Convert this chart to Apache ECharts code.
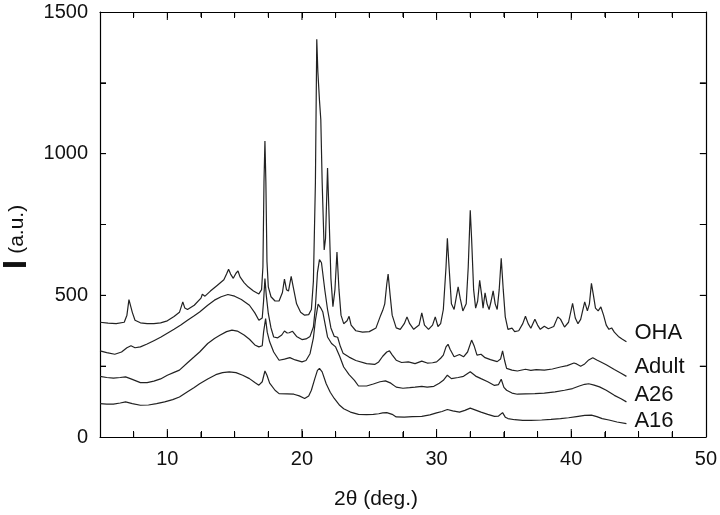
<!DOCTYPE html>
<html>
<head>
<meta charset="utf-8">
<script src="https://cdn.jsdelivr.net/npm/echarts@6/dist/echarts.min.js"></script>
<style>html,body{margin:0;padding:0;background:#fff}.c{width:720px;height:515px}</style>
</head>
<body>
<div id="main" class="c"></div>
<script>
// 2θ (deg.) vs intensity (a.u.)
const OHA = [[5.0,405],[5.6,402],[6.2,400],[6.8,405],[7.0,430],[7.15,485],[7.25,490],[7.4,440],[7.6,412],[8.0,403],[8.5,400],[9.0,400],[9.5,403],[10.0,410],[10.5,425],[10.9,440],[11.05,462],[11.15,477],[11.3,455],[11.5,450],[12.0,465],[12.5,490],[12.6,504],[12.8,497],[13.2,515],[13.7,535],[14.2,555],[14.4,575],[14.55,592],[14.7,575],[14.9,560],[15.1,578],[15.25,586],[15.4,565],[15.7,545],[16.0,530],[16.4,515],[16.8,505],[17.0,520],[17.1,600],[17.18,900],[17.25,1045],[17.32,900],[17.4,620],[17.5,530],[17.7,495],[18.0,480],[18.3,480],[18.55,510],[18.7,557],[18.85,520],[19.0,515],[19.2,567],[19.35,530],[19.6,470],[19.9,440],[20.2,430],[20.5,432],[20.7,450],[20.85,550],[21.0,900],[21.1,1404],[21.18,1290],[21.3,1189],[21.4,1120],[21.5,900],[21.65,660],[21.75,700],[21.9,949],[22.0,800],[22.15,560],[22.3,460],[22.45,520],[22.6,653],[22.75,520],[22.9,430],[23.1,400],[23.35,410],[23.5,426],[23.65,395],[24.0,375],[24.5,370],[25.0,372],[25.5,385],[25.85,430],[26.0,447],[26.15,470],[26.3,540],[26.4,575],[26.55,500],[26.7,430],[27.0,385],[27.3,380],[27.6,400],[27.8,424],[28.0,400],[28.3,380],[28.7,395],[28.9,438],[29.1,395],[29.4,380],[29.7,395],[29.9,424],[30.1,390],[30.3,400],[30.5,450],[30.7,600],[30.8,701],[30.9,620],[31.1,470],[31.3,450],[31.45,490],[31.6,530],[31.75,490],[31.95,445],[32.2,470],[32.35,600],[32.5,800],[32.6,700],[32.75,520],[32.9,455],[33.05,480],[33.2,553],[33.35,500],[33.45,455],[33.6,509],[33.75,470],[33.9,450],[34.05,480],[34.2,516],[34.35,470],[34.5,450],[34.65,520],[34.8,631],[34.95,520],[35.1,424],[35.3,380],[35.6,384],[35.8,372],[36.1,375],[36.4,400],[36.6,426],[36.8,400],[37.0,384],[37.3,416],[37.5,395],[37.7,380],[38.0,391],[38.3,382],[38.7,390],[39.0,424],[39.2,416],[39.5,388],[39.8,405],[40.1,472],[40.3,420],[40.5,400],[40.7,415],[41.0,477],[41.2,445],[41.35,470],[41.5,542],[41.65,500],[41.8,455],[42.0,445],[42.2,459],[42.4,430],[42.6,395],[42.8,380],[43.0,385],[43.2,370],[43.5,355],[43.8,345],[44.1,336]];

const ADULT = [[5.0,304],[5.5,298],[6.1,292],[6.6,300],[7.0,315],[7.3,322],[7.6,315],[8.0,318],[8.5,328],[9.0,340],[9.5,352],[10.0,366],[10.5,380],[11.0,395],[11.5,412],[12.0,428],[12.4,441],[13.0,465],[13.5,483],[14.0,495],[14.5,503],[15.0,497],[15.5,485],[16.1,465],[16.5,438],[16.8,412],[17.05,420],[17.15,480],[17.25,559],[17.35,500],[17.5,436],[17.7,385],[17.9,353],[18.2,350],[18.5,360],[18.7,374],[18.9,367],[19.05,368],[19.3,373],[19.6,355],[20.0,344],[20.3,346],[20.6,355],[20.85,388],[21.0,460],[21.15,580],[21.3,626],[21.45,615],[21.7,518],[21.9,450],[22.15,385],[22.4,355],[22.65,352],[22.85,320],[23.05,296],[23.5,282],[24.0,270],[24.8,259],[25.4,256],[25.7,265],[26.0,285],[26.3,300],[26.5,304],[26.7,290],[27.0,271],[27.4,263],[27.9,265],[28.4,259],[28.9,268],[29.3,261],[29.7,262],[30.0,265],[30.3,278],[30.5,289],[30.7,318],[30.85,327],[31.0,310],[31.3,283],[31.7,291],[32.0,283],[32.3,300],[32.6,342],[32.8,320],[33.0,289],[33.3,292],[33.6,280],[34.0,273],[34.5,266],[34.75,275],[34.9,304],[35.05,270],[35.2,242],[35.6,236],[36.0,233],[36.6,239],[37.0,235],[37.4,238],[38.0,236],[38.6,240],[39.2,247],[39.7,252],[40.2,261],[40.4,258],[40.7,250],[41.0,258],[41.3,272],[41.6,280],[41.9,272],[42.2,265],[42.6,255],[43.2,238],[43.7,225],[44.1,214]];

const A26 = [[5.0,214],[5.5,210],[6.0,208],[6.5,210],[6.9,212],[7.3,205],[8.0,192],[8.5,192],[9.0,197],[9.5,205],[10.0,218],[10.5,228],[10.9,236],[11.5,262],[12.0,283],[12.4,300],[13.0,330],[13.5,348],[13.9,359],[14.4,372],[14.8,377],[15.2,374],[15.7,360],[16.1,345],[16.5,325],[16.8,318],[17.05,322],[17.15,370],[17.3,418],[17.42,370],[17.6,336],[17.9,300],[18.3,271],[18.7,275],[19.1,280],[19.5,272],[20.0,265],[20.3,270],[20.6,294],[20.85,350],[21.0,412],[21.2,469],[21.4,455],[21.55,441],[21.9,353],[22.2,330],[22.5,318],[22.8,285],[23.1,247],[23.5,220],[23.9,200],[24.2,180],[24.8,180],[25.3,187],[25.8,195],[26.2,198],[26.6,190],[27.0,176],[27.5,172],[28.0,174],[28.4,176],[28.9,179],[29.3,176],[29.8,179],[30.2,190],[30.5,200],[30.8,218],[31.1,206],[31.6,210],[32.0,214],[32.5,230],[32.9,215],[33.3,206],[33.8,195],[34.3,182],[34.6,185],[34.8,204],[35.0,175],[35.2,165],[35.6,155],[36.0,151],[36.6,152],[37.3,153],[38.0,155],[38.8,159],[39.5,165],[40.1,171],[40.6,180],[41.0,186],[41.3,188],[41.7,183],[42.1,177],[42.6,165],[43.2,147],[43.7,135],[44.1,124]];

const A16 = [[5.0,118],[5.5,116],[6.0,116],[6.5,120],[6.9,124],[7.4,118],[8.0,112],[8.6,113],[9.2,118],[9.8,124],[10.4,132],[10.9,141],[11.5,160],[12.0,175],[12.4,188],[13.0,205],[13.6,220],[14.1,227],[14.6,230],[15.1,227],[15.6,218],[16.1,206],[16.5,192],[16.8,183],[17.05,195],[17.25,233],[17.4,218],[17.6,190],[18.0,165],[18.3,153],[18.9,152],[19.4,151],[19.8,145],[20.2,136],[20.5,145],[20.7,165],[20.95,205],[21.15,235],[21.3,242],[21.5,230],[21.8,188],[22.1,158],[22.4,136],[22.8,112],[23.1,100],[23.6,88],[24.2,80],[24.8,79],[25.3,80],[25.7,82],[26.0,85],[26.3,86],[26.7,80],[27.0,71],[27.6,70],[28.2,72],[28.9,73],[29.5,78],[30.0,85],[30.4,90],[30.8,97],[31.2,92],[31.7,88],[32.1,94],[32.5,102],[32.9,95],[33.3,88],[33.8,80],[34.3,73],[34.6,74],[34.9,86],[35.1,70],[35.3,65],[35.8,61],[36.4,59],[37.0,59],[37.8,60],[38.5,62],[39.2,65],[39.8,68],[40.4,72],[41.0,76],[41.5,77],[41.9,72],[42.3,65],[42.8,60],[43.4,53],[44.1,47]];

const SERIES_NAMES = ['OHA', 'Adult', 'A26', 'A16'];
const X_MAJOR_TICKS = [10, 20, 30, 40];
const X_MINOR_TICKS = [7.5, 12.5, 15, 17.5, 22.5, 25, 27.5, 32.5, 35, 37.5, 42.5, 45, 47.5];
const Y_TICKS = [250, 500, 750, 1000, 1250];
const X_MIN = 5, X_MAX = 50, Y_MIN = 0, Y_MAX = 1500;
const FONT = 'Liberation Sans, Arial, sans-serif';

const dataSets = [OHA, ADULT, A26, A16];
const labelOffsets = [[0, -9], [0, -9], [0, -7], [0, -3]];

const ch = echarts.init(document.getElementById('main'), null, {renderer: 'canvas'});
function x(pos, labels) {
  return {type: 'value', min: X_MIN, max: X_MAX, interval: 2.5, position: pos,
    axisLine: {show: true, onZero: false, lineStyle: {color: '#000', width: 1.2}},
    axisTick: {show: true, inside: true, length: 6, lineStyle: {color: '#000', width: 1}},
    axisLabel: labels ? {show: true, fontSize: 20, color: '#111', fontFamily: FONT, margin: 12, formatter: v => (v % 10 === 0 ? String(v) : '')} : {show: false},
    splitLine: {show: false}};
}
function y(pos, labels) {
  return {type: 'value', min: Y_MIN, max: Y_MAX, interval: 250, position: pos,
    axisLine: {show: true, onZero: false, lineStyle: {color: '#000', width: 1.2}},
    axisTick: {show: true, inside: true, length: 6, lineStyle: {color: '#000', width: 1}},
    axisLabel: labels ? {show: true, fontSize: 20, color: '#111', fontFamily: FONT, margin: 12, formatter: v => (v % 500 === 0 ? String(v) : '')} : {show: false},
    splitLine: {show: false}};
}

// tick marks as tiny rect symbols placed on the axes through the chart scales
function tickSeries(data, size, offset) {
  return {type: 'scatter', data: data, symbol: 'rect', symbolSize: size, symbolOffset: offset,
    itemStyle: {color: '#000', opacity: 1}, silent: true, z: 10, clip: false, animation: false,
    emphasis: {disabled: true}, label: {show: false}};
}

const lineSeries = dataSets.map((d, i) => ({
  name: SERIES_NAMES[i], type: 'line', xAxisIndex: 0, yAxisIndex: 0, data: d,
  showSymbol: false, symbol: 'none', lineStyle: {color: '#222', width: 1.2},
  endLabel: {show: true, formatter: SERIES_NAMES[i], fontSize: 22, color: '#111', fontFamily: FONT, distance: 8, offset: labelOffsets[i]}
}));

const ticks = [
  tickSeries(X_MAJOR_TICKS.map(v => [v, Y_MIN]), [1, 8], [0, -4]),
  tickSeries(X_MINOR_TICKS.map(v => [v, Y_MIN]), [1, 5], [0, -2.5]),
  tickSeries(X_MAJOR_TICKS.map(v => [v, Y_MAX]), [1, 8], [0, 4]),
  tickSeries(X_MINOR_TICKS.map(v => [v, Y_MAX]), [1, 5], [0, 2.5]),
  tickSeries(Y_TICKS.map(v => [X_MIN, v]), [6, 1], [3, 0]),
  tickSeries(Y_TICKS.map(v => [X_MAX, v]), [6, 1], [-3, 0])
];

ch.setOption({
  animation: false,
  grid: {left: 100, right: 12, top: 12, bottom: 78, containLabel: false},
  xAxis: [x('bottom', true), x('top', false)],
  yAxis: [y('left', true), y('right', false)],
  series: lineSeries.concat(ticks),
  graphic: [
    {type: 'text', x: 17, y: 237, rotation: Math.PI / 2,
     style: {text: '{b|I} (a.u.)', rich: {b: {fontSize: 34, fontWeight: 'bold', fontFamily: FONT, fill: '#111'}}, fontSize: 21, fontFamily: FONT, fill: '#111', align: 'center', verticalAlign: 'middle'}},
    {type: 'text', x: 376, y: 499,
     style: {text: '2θ (deg.)', fontSize: 21, fontFamily: FONT, fill: '#111', align: 'center', verticalAlign: 'middle'}}
  ]
});
</script>
</body>
</html>
